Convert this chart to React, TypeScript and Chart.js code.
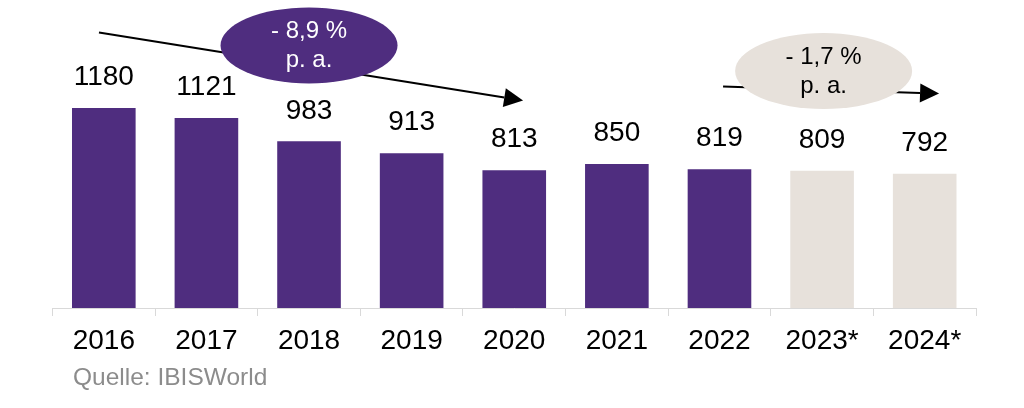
import React, { useEffect, useRef } from "react";
import { Chart, registerables } from "chart.js";

Chart.register(...registerables);

const categories = ["2016", "2017", "2018", "2019", "2020", "2021", "2022", "2023*", "2024*"];
const values = [1180, 1121, 983, 913, 813, 850, 819, 809, 792];
const isForecast = [false, false, false, false, false, false, false, true, true];
const growthTextPast = ["- 8,9 %", "p. a."];
const growthTextForecast = ["- 1,7 %", "p. a."];
const sourceText = "Quelle: IBISWorld";

const PURPLE = "#4f2d7f";
const BEIGE = "#e7e1db";
const FONT = "'Liberation Sans', Arial, Helvetica, sans-serif";
const Y_MAX = 1817;

// annotation anchors in data space (category index, value)
const trendAnnotations = [
  {
    from: [-0.047, 1625],
    to: [4.086, 1224],
    center: [2.0, 1549],
    fill: PURPLE,
    textColor: "#ffffff",
    lines: growthTextPast,
  },
  {
    from: [6.035, 1307],
    to: [8.14, 1265],
    center: [7.015, 1398],
    fill: BEIGE,
    textColor: "#000000",
    lines: growthTextForecast,
  },
];

const decorPlugin = {
  id: "decor",
  afterDatasetsDraw(chart: any) {
    const ctx = chart.ctx as CanvasRenderingContext2D;
    const xs = chart.scales.x;
    const ys = chart.scales.y;
    const meta = chart.getDatasetMeta(0);
    ctx.save();
    // value labels
    ctx.font = `28px ${FONT}`;
    ctx.fillStyle = "#000000";
    ctx.textAlign = "center";
    ctx.textBaseline = "middle";
    meta.data.forEach((bar: any, i: number) => {
      ctx.fillText(String(values[i]), bar.x, bar.y - 30.5);
    });

    // trend arrows + ellipses
    trendAnnotations.forEach((a) => {
      const x1 = xs.getPixelForValue(a.from[0]);
      const y1 = ys.getPixelForValue(a.from[1]);
      const x2 = xs.getPixelForValue(a.to[0]);
      const y2 = ys.getPixelForValue(a.to[1]);
      const ang = Math.atan2(y2 - y1, x2 - x1);
      const headLen = 19;
      const headHalf = 9.5;
      const bx = x2 - headLen * Math.cos(ang);
      const by = y2 - headLen * Math.sin(ang);
      ctx.strokeStyle = "#000000";
      ctx.lineWidth = 2;
      ctx.beginPath();
      ctx.moveTo(x1, y1);
      ctx.lineTo(bx, by);
      ctx.stroke();
      ctx.fillStyle = "#000000";
      ctx.beginPath();
      ctx.moveTo(x2, y2);
      ctx.lineTo(bx + headHalf * Math.sin(ang), by - headHalf * Math.cos(ang));
      ctx.lineTo(bx - headHalf * Math.sin(ang), by + headHalf * Math.cos(ang));
      ctx.closePath();
      ctx.fill();

      const cx = xs.getPixelForValue(a.center[0]);
      const cy = ys.getPixelForValue(a.center[1]);
      ctx.fillStyle = a.fill;
      ctx.beginPath();
      ctx.ellipse(cx, cy, 88.5, 38, 0, 0, Math.PI * 2);
      ctx.fill();
      ctx.fillStyle = a.textColor;
      ctx.font = `24px ${FONT}`;
      ctx.textAlign = "center";
      ctx.textBaseline = "middle";
      ctx.fillText(a.lines[0], cx, cy - 14);
      ctx.fillText(a.lines[1], cx, cy + 15);
    });

    // source
    ctx.font = `24.5px ${FONT}`;
    ctx.fillStyle = "#8c8c8c";
    ctx.textAlign = "left";
    ctx.textBaseline = "middle";
    ctx.fillText(sourceText, chart.chartArea.left + 20.5, 378);
    ctx.restore();
  },
};

export default function App() {
  const canvasRef = useRef<HTMLCanvasElement | null>(null);

  useEffect(() => {
    if (!canvasRef.current) return;
    const chart = new Chart(canvasRef.current, {
      type: "bar",
      data: {
        labels: categories,
        datasets: [
          {
            data: values,
            backgroundColor: isForecast.map((f) => (f ? BEIGE : PURPLE)),
            borderWidth: 0,
            barPercentage: 0.62,
            categoryPercentage: 1,
          },
        ],
      },
      options: {
        animation: false,
        responsive: false,
        devicePixelRatio: 1,
        layout: { padding: { left: 52.5, right: 48, top: 0, bottom: 0 } },
        plugins: {
          legend: { display: false },
          tooltip: { enabled: false },
          title: { display: false },
        },
        scales: {
          x: {
            grid: {
              display: true,
              drawOnChartArea: false,
              drawTicks: true,
              tickLength: 8,
              color: "#d9d9d9",
              lineWidth: 1,
            },
            border: { display: true, color: "#d9d9d9", width: 1 },
            ticks: {
              color: "#000000",
              font: { family: FONT, size: 28 },
              padding: 8.5,
              maxRotation: 0,
              autoSkip: false,
            },
            afterFit: (scale: any) => {
              scale.height = 100;
            },
          },
          y: {
            display: false,
            min: 0,
            max: Y_MAX,
          },
        },
      },
      plugins: [decorPlugin],
    });
    return () => chart.destroy();
  }, []);

  return (
    <div style={{ position: "fixed", left: 0, top: 0, width: 1024, height: 408, background: "#ffffff" }}>
      <canvas ref={canvasRef} width={1024} height={408} />
    </div>
  );
}
